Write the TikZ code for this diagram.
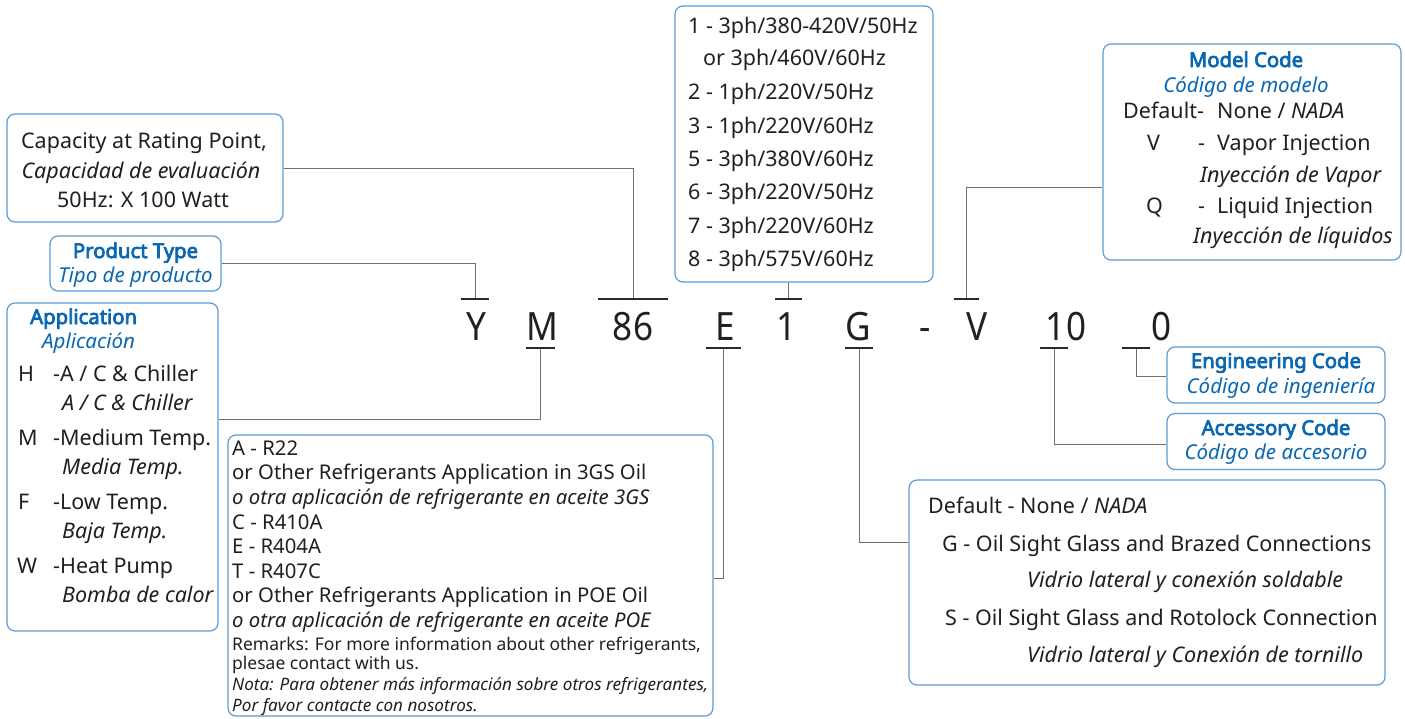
\documentclass[tikz,border=0pt]{standalone}
\usepackage{fontspec}
\setmainfont{Noto Sans}[BoldFont={Noto Sans}, BoldFeatures={FakeBold=3.6}, BoldItalicFont={Noto Sans Italic}, BoldItalicFeatures={FakeBold=3.6}]
\newfontfamily\codefont[FakeStretch=0.9]{Noto Sans}
\definecolor{boxblue}{HTML}{5B9BD5}
\definecolor{ttlblue}{HTML}{0A67B2}
\definecolor{txtc}{HTML}{231F20}
\definecolor{connc}{HTML}{707070}
\definecolor{tickc}{HTML}{2A2A2A}
\begin{document}
\begin{tikzpicture}[x=1pt,y=-1pt,
  box/.style={draw=boxblue, line width=1.2pt, rounded corners=8pt, inner sep=0pt, fill=white},
  txt/.style={anchor=base west, inner sep=0pt, text=txtc, font=\fontsize{21.5}{26}\selectfont},
  stxt/.style={txt, font=\fontsize{20.3}{24}\selectfont},
  sstxt/.style={txt, font=\fontsize{17.5}{21}\selectfont},
  sstxti/.style={txt, font=\fontsize{17.1}{21}\selectfont\itshape},
  ttl/.style={anchor=base, inner sep=0pt, text=ttlblue, font=\fontsize{20.3}{24}\selectfont\bfseries},
  ttli/.style={anchor=base, inner sep=0pt, text=ttlblue, font=\fontsize{20.5}{24}\selectfont\itshape},
  code/.style={anchor=base, inner sep=0pt, text=txtc, font=\codefont\fontsize{39}{40}\selectfont},
  conn/.style={draw=connc, line width=1pt},
  tickline/.style={draw=tickc, line width=1.1pt}]
\useasboundingbox (0,0) rectangle (1405,718);

% ---------- boxes ----------
\node[box, minimum width=276pt, minimum height=108pt] (cap) at (145,168) {};
\node[box, minimum width=171pt, minimum height=55pt] (ptype) at (135.5,263.5) {};
\node[box, minimum width=211pt, minimum height=328pt] (app) at (112.5,467) {};
\node[box, minimum width=485pt, minimum height=281pt] (ref) at (470.5,575.5) {};
\node[box, minimum width=258pt, minimum height=276pt] (volt) at (804,144) {};
\node[box, minimum width=298pt, minimum height=216pt] (model) at (1252,152) {};
\node[box, minimum width=218pt, minimum height=56pt] (eng) at (1276,375) {};
\node[box, minimum width=218pt, minimum height=56pt] (acc) at (1276,441.5) {};
\node[box, minimum width=476pt, minimum height=205pt] (gbox) at (1147,582.5) {};

% ---------- capacity ----------
\node[txt, anchor=base] (cap1) at (144,148) {Capacity at Rating Point,};
\node[txt, anchor=base] (cap2) at (141,178) {\itshape Capacidad de evaluación};
\node[txt, anchor=base] (cap3) at (143,207) {50Hz: X 100 Watt};

% ---------- product type ----------
\node[ttl] (pt1) at (135.5,258) {Product Type};
\node[ttli] (pt2) at (135.5,282) {Tipo de producto};

% ---------- application ----------
\node[ttl, anchor=base west] (ap1) at (30,324) {Application};
\node[ttli, anchor=base west] (ap2) at (42,348) {Aplicación};
\node[txt] (apH) at (18,381) {H};
\node[txt] (apH1) at (53,381) {-A / C \& Chiller};
\node[txt] (apH2) at (62,410) {\itshape A / C \& Chiller};
\node[txt] (apM) at (18,445) {M};
\node[txt] (apM1) at (53,445) {-Medium Temp.};
\node[txt] (apM2) at (62,474) {\itshape Media Temp.};
\node[txt] (apF) at (18,509) {F};
\node[txt] (apF1) at (53,509) {-Low Temp.};
\node[txt] (apF2) at (62,538) {\itshape Baja Temp.};
\node[txt] (apW) at (17,573) {W};
\node[txt] (apW1) at (53,573) {-Heat Pump};
\node[txt] (apW2) at (62,602) {\itshape Bomba de calor};

% ---------- refrigerant ----------
\node[stxt] (r1) at (232,455) {A - R22};
\node[stxt] (r2) at (232,479) {or Other Refrigerants Application in 3GS Oil};
\node[stxt] (r3) at (232,504) {\itshape o otra aplicación de refrigerante en aceite 3GS};
\node[stxt] (r4) at (232,529) {C - R410A};
\node[stxt] (r5) at (232,553) {E - R404A};
\node[stxt] (r6) at (232,578) {T - R407C};
\node[stxt] (r7) at (232,602) {or Other Refrigerants Application in POE Oil};
\node[stxt] (r8) at (232,627) {\itshape o otra aplicación de refrigerante en aceite POE};
\node[sstxt] (r9) at (232,650) {Remarks: For more information about other refrigerants,};
\node[sstxt] (r10) at (232,669) {plesae contact with us.};
\node[sstxti] (r11) at (232,690) {Nota: Para obtener más información sobre otros refrigerantes,};
\node[sstxti] (r12) at (232,711) {Por favor contacte con nosotros.};

% ---------- voltage ----------
\node[txt] (v1) at (688,33) {1 - 3ph/380-420V/50Hz};
\node[txt] (v1b) at (703,65) {or 3ph/460V/60Hz};
\node[txt] (v2) at (688,99) {2 - 1ph/220V/50Hz};
\node[txt] (v3) at (688,133) {3 - 1ph/220V/60Hz};
\node[txt] (v5) at (688,166) {5 - 3ph/380V/60Hz};
\node[txt] (v6) at (688,199) {6 - 3ph/220V/50Hz};
\node[txt] (v7) at (688,233) {7 - 3ph/220V/60Hz};
\node[txt] (v8) at (688,266) {8 - 3ph/575V/60Hz};

% ---------- model code ----------
\node[ttl] (m1) at (1246,67) {Model Code};
\node[ttli] (m2) at (1246,92) {Código de modelo};
\node[txt] (m3) at (1123,118) {Default-};
\node[txt] (m3b) at (1217,118) {None / \textit{NADA}};
\node[txt] (m4) at (1147,150) {V};
\node[txt] (m4a) at (1198,150) {-};
\node[txt] (m4b) at (1217,150) {Vapor Injection};
\node[txt] (m5) at (1200,182) {\itshape Inyección de Vapor};
\node[txt] (m6) at (1146,213) {Q};
\node[txt] (m6a) at (1198,213) {-};
\node[txt] (m6b) at (1217,213) {Liquid Injection};
\node[txt] (m7) at (1193,243) {\itshape Inyección de líquidos};

% ---------- engineering / accessory ----------
\node[ttl] (e1) at (1276,368) {Engineering Code};
\node[ttli] (e2) at (1281,393) {Código de ingeniería};
\node[ttl] (a1) at (1276,435) {Accessory Code};
\node[ttli] (a2) at (1276,459) {Código de accesorio};

% ---------- G box ----------
\node[txt] (g1) at (928,513) {Default - None / \textit{NADA}};
\node[txt] (g2) at (942,551) {G - Oil Sight Glass and Brazed Connections};
\node[txt] (g3) at (1027,587) {\itshape Vidrio lateral y conexión soldable};
\node[txt] (g4) at (945,625) {S - Oil Sight Glass and Rotolock Connection};
\node[txt] (g5) at (1027,662) {\itshape Vidrio lateral y Conexión de tornillo};

% ---------- code letters ----------
\node[code] (cY) at (476,340) {Y};
\node[code] (cM) at (542,340) {M};
\node[code] (c86) at (633,340) {86};
\node[code] (cE) at (725,340) {E};
\node[code] (c1) at (787,340) {1};
\node[code] (cG) at (858,340) {G};
\node[code] (cdash) at (925,340) {-};
\node[code] (cV) at (977,340) {V};
\node[code] (c10) at (1066,340) {10};
\node[code] (c0) at (1162,340) {0};

% ---------- tick coordinates ----------
\coordinate (tY) at (475,299);
\coordinate (t86) at (633,299);
\coordinate (t1) at (788.5,299);
\coordinate (tV) at (966,299);
\coordinate (tM) at (540,348);
\coordinate (tE) at (723,348);
\coordinate (tG) at (859,348);
\coordinate (t10) at (1054,348);
\coordinate (t0) at (1136,348);
\coordinate (y187) at (0,187);
\coordinate (y419) at (0,419);
\coordinate (y578) at (0,578);
\coordinate (y542) at (0,542);
\coordinate (y444) at (0,444);
\coordinate (y376) at (0,376);

% ---------- connectors ----------
\draw[conn] (ptype.east) -| (tY);
\draw[conn] (cap.east) -| (t86);
\draw[conn] (volt.south -| t1) -- (t1);
\draw[conn] (model.west |- y187) -| (tV);
\draw[conn] (app.east |- y419) -| (tM);
\draw[conn] (ref.east |- y578) -| (tE);
\draw[conn] (gbox.west |- y542) -| (tG);
\draw[conn] (acc.west |- y444) -| (t10);
\draw[conn] (eng.west |- y376) -| (t0);

% ---------- ticks ----------
\draw[tickline] ([xshift=-14pt]tY) -- ([xshift=14pt]tY);
\draw[tickline] ([xshift=-35pt]t86) -- ([xshift=35pt]t86);
\draw[tickline] ([xshift=-13.5pt]t1) -- ([xshift=13.5pt]t1);
\draw[tickline] ([xshift=-12.5pt]tV) -- ([xshift=12.5pt]tV);
\draw[tickline] ([xshift=-14.5pt]tM) -- ([xshift=14.5pt]tM);
\draw[tickline] ([xshift=-17.5pt]tE) -- ([xshift=17.5pt]tE);
\draw[tickline] ([xshift=-14pt]tG) -- ([xshift=14pt]tG);
\draw[tickline] ([xshift=-14pt]t10) -- ([xshift=14pt]t10);
\draw[tickline] ([xshift=-14pt]t0) -- ([xshift=14pt]t0);
\end{tikzpicture}
\end{document}
